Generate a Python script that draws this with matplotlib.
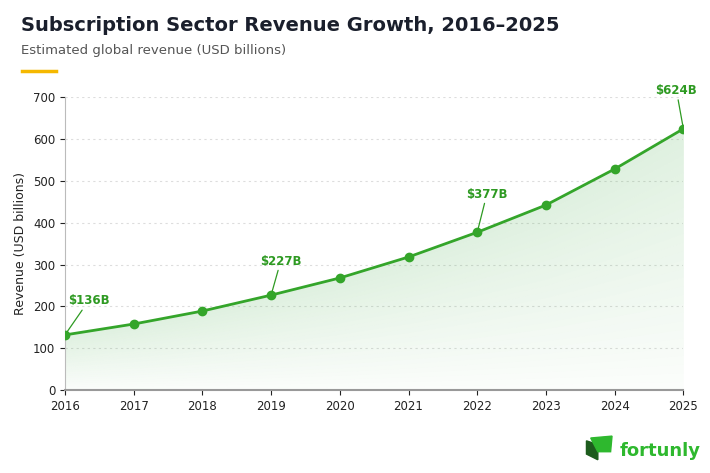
import matplotlib.pyplot as plt
from matplotlib.patches import Polygon

years = [2016, 2017, 2018, 2019, 2020, 2021, 2022, 2023, 2024, 2025]
revenue = [132, 158, 189, 227, 268, 318, 377, 442, 528, 624]
labelled = {2016: "$136B", 2019: "$227B", 2022: "$377B", 2025: "$624B"}

fig = plt.figure(figsize=(7.1, 4.73), dpi=100)
ax = fig.add_axes([0.0915, 0.175, 0.871, 0.62])

ax.plot(years, revenue, color="#34a52a", lw=2, marker="o", ms=6, zorder=3)
# gradient-ish fill under the line
for i in range(30):
    frac = i / 30
    ax.fill_between(years, [v * frac for v in revenue], [v * (frac + 1 / 30) for v in revenue],
                    color="#4caf50", alpha=0.02 + 0.16 * frac, lw=0)

offsets = {2016: (2, 22), 2019: (-8, 22), 2022: (-8, 25), 2025: (-20, 25)}
for yr, txt in labelled.items():
    v = revenue[years.index(yr)]
    ax.annotate(txt, (yr, v), xytext=offsets[yr], textcoords="offset points",
                color="#2e9a22", fontsize=8.5, fontweight="bold", ha="left",
                arrowprops=dict(arrowstyle="-", color="#2e9a22", lw=0.9, shrinkA=0, shrinkB=3))

ax.set_xlim(2016, 2025)
ax.set_ylim(0, 700)
ax.set_xticks(years)
ax.set_yticks(range(0, 701, 100))
ax.tick_params(labelsize=8.5, colors="#222222")
ax.grid(axis="y", ls=(0, (2, 3)), color="#dddddd", lw=0.8)
ax.set_axisbelow(True)
for s in ["top", "right"]:
    ax.spines[s].set_visible(False)
ax.spines["left"].set_color("#bbbbbb")
ax.spines["bottom"].set_color("#999999")
ax.spines["bottom"].set_linewidth(1.5)
ax.set_ylabel("Revenue (USD billions)", fontsize=9, color="#222222")

fig.text(0.03, 0.935, "Subscription Sector Revenue Growth, 2016–2025", fontsize=14,
         fontweight="bold", color="#1a1f2c")
fig.text(0.03, 0.885, "Estimated global revenue (USD billions)", fontsize=9.5, color="#555555")
fig.add_artist(plt.Line2D([0.031, 0.079], [0.849, 0.849], color="#f5b800", lw=2.5))

fig.add_artist(Polygon([[0.826, 0.068], [0.826, 0.04], [0.842, 0.028], [0.842, 0.06]],
                       closed=True, color="#1d5c1d", transform=fig.transFigure))
fig.add_artist(Polygon([[0.832, 0.074], [0.862, 0.078], [0.86, 0.045], [0.842, 0.045]],
                       closed=True, color="#2eb82e", transform=fig.transFigure))
fig.text(0.873, 0.035, "fortunly", fontsize=13, fontweight="bold", color="#2eb82e")

fig.savefig("out.png", dpi=100, facecolor="white")
